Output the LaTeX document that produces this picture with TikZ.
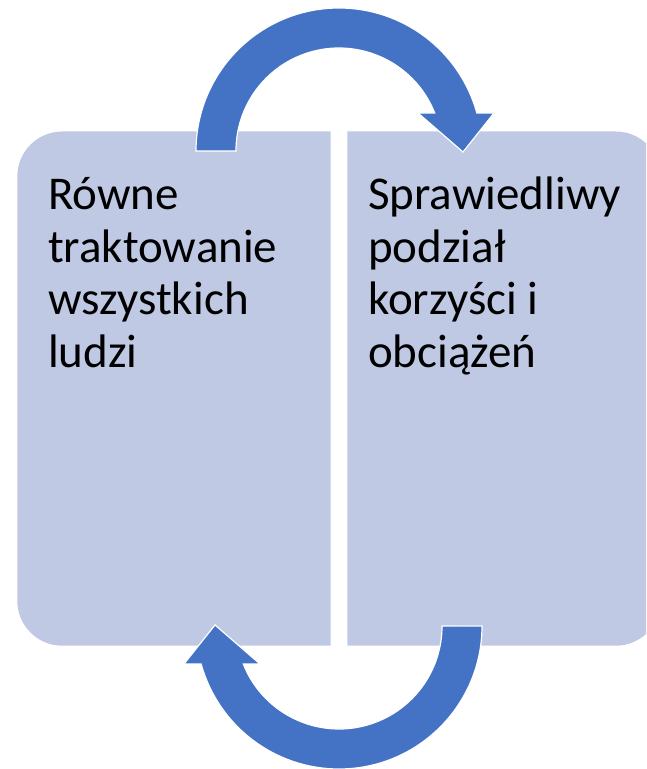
\documentclass[tikz,border=0pt]{standalone}
\usepackage{fontspec}
\setmainfont{Carlito}
\definecolor{boxfill}{RGB}{192,201,228}
\definecolor{arrowblue}{RGB}{68,114,196}
\begin{document}
\begin{tikzpicture}[x=1pt,y=1pt,
  panel/.style={fill=boxfill,draw=none},
  boxtext/.style={anchor=base west, align=left, inner sep=0pt,
    font=\fontsize{47}{52.4}\selectfont, text=black},
  cyclearrow/.pic={
    \fill[arrowblue,draw=white,line width=1.2pt]
      (-143,0) arc[start angle=180,end angle=15.4,radius=143]
      -- (155,38) -- (124,-1) -- (79,38) -- (95.7,38)
      arc[start angle=21.65,end angle=180,radius=103] -- cycle;
  }
]
\useasboundingbox (0,0) rectangle (646,769);
\clip (0,0) rectangle (646,769);
% left panel (rounded on the left)
\fill[panel] (330.7,637.5) -- (62.3,637.5)
  arc[start angle=90,end angle=180,radius=45] -- (17.3,168.3)
  arc[start angle=180,end angle=270,radius=45] -- (330.7,123.3) -- cycle;
% right panel (rounded on the right)
\fill[panel] (347.3,637.5) -- (615.7,637.5)
  arc[start angle=90,end angle=0,radius=45] -- (660.7,168.3)
  arc[start angle=0,end angle=-90,radius=45] -- (347.3,123.3) -- cycle;
% texts (base anchor = baseline of the last line)
\node[boxtext] (left) at (48,401.8) {Równe\\traktowanie\\wszystkich\\ludzi};
\node[boxtext] (right) at (368,401.8) {Sprawiedliwy\\podział\\korzyści i\\obciążeń};
% arrows
\pic at (339,618) {cyclearrow};
\pic[rotate=180] at (339,143) {cyclearrow};
\end{tikzpicture}
\end{document}
